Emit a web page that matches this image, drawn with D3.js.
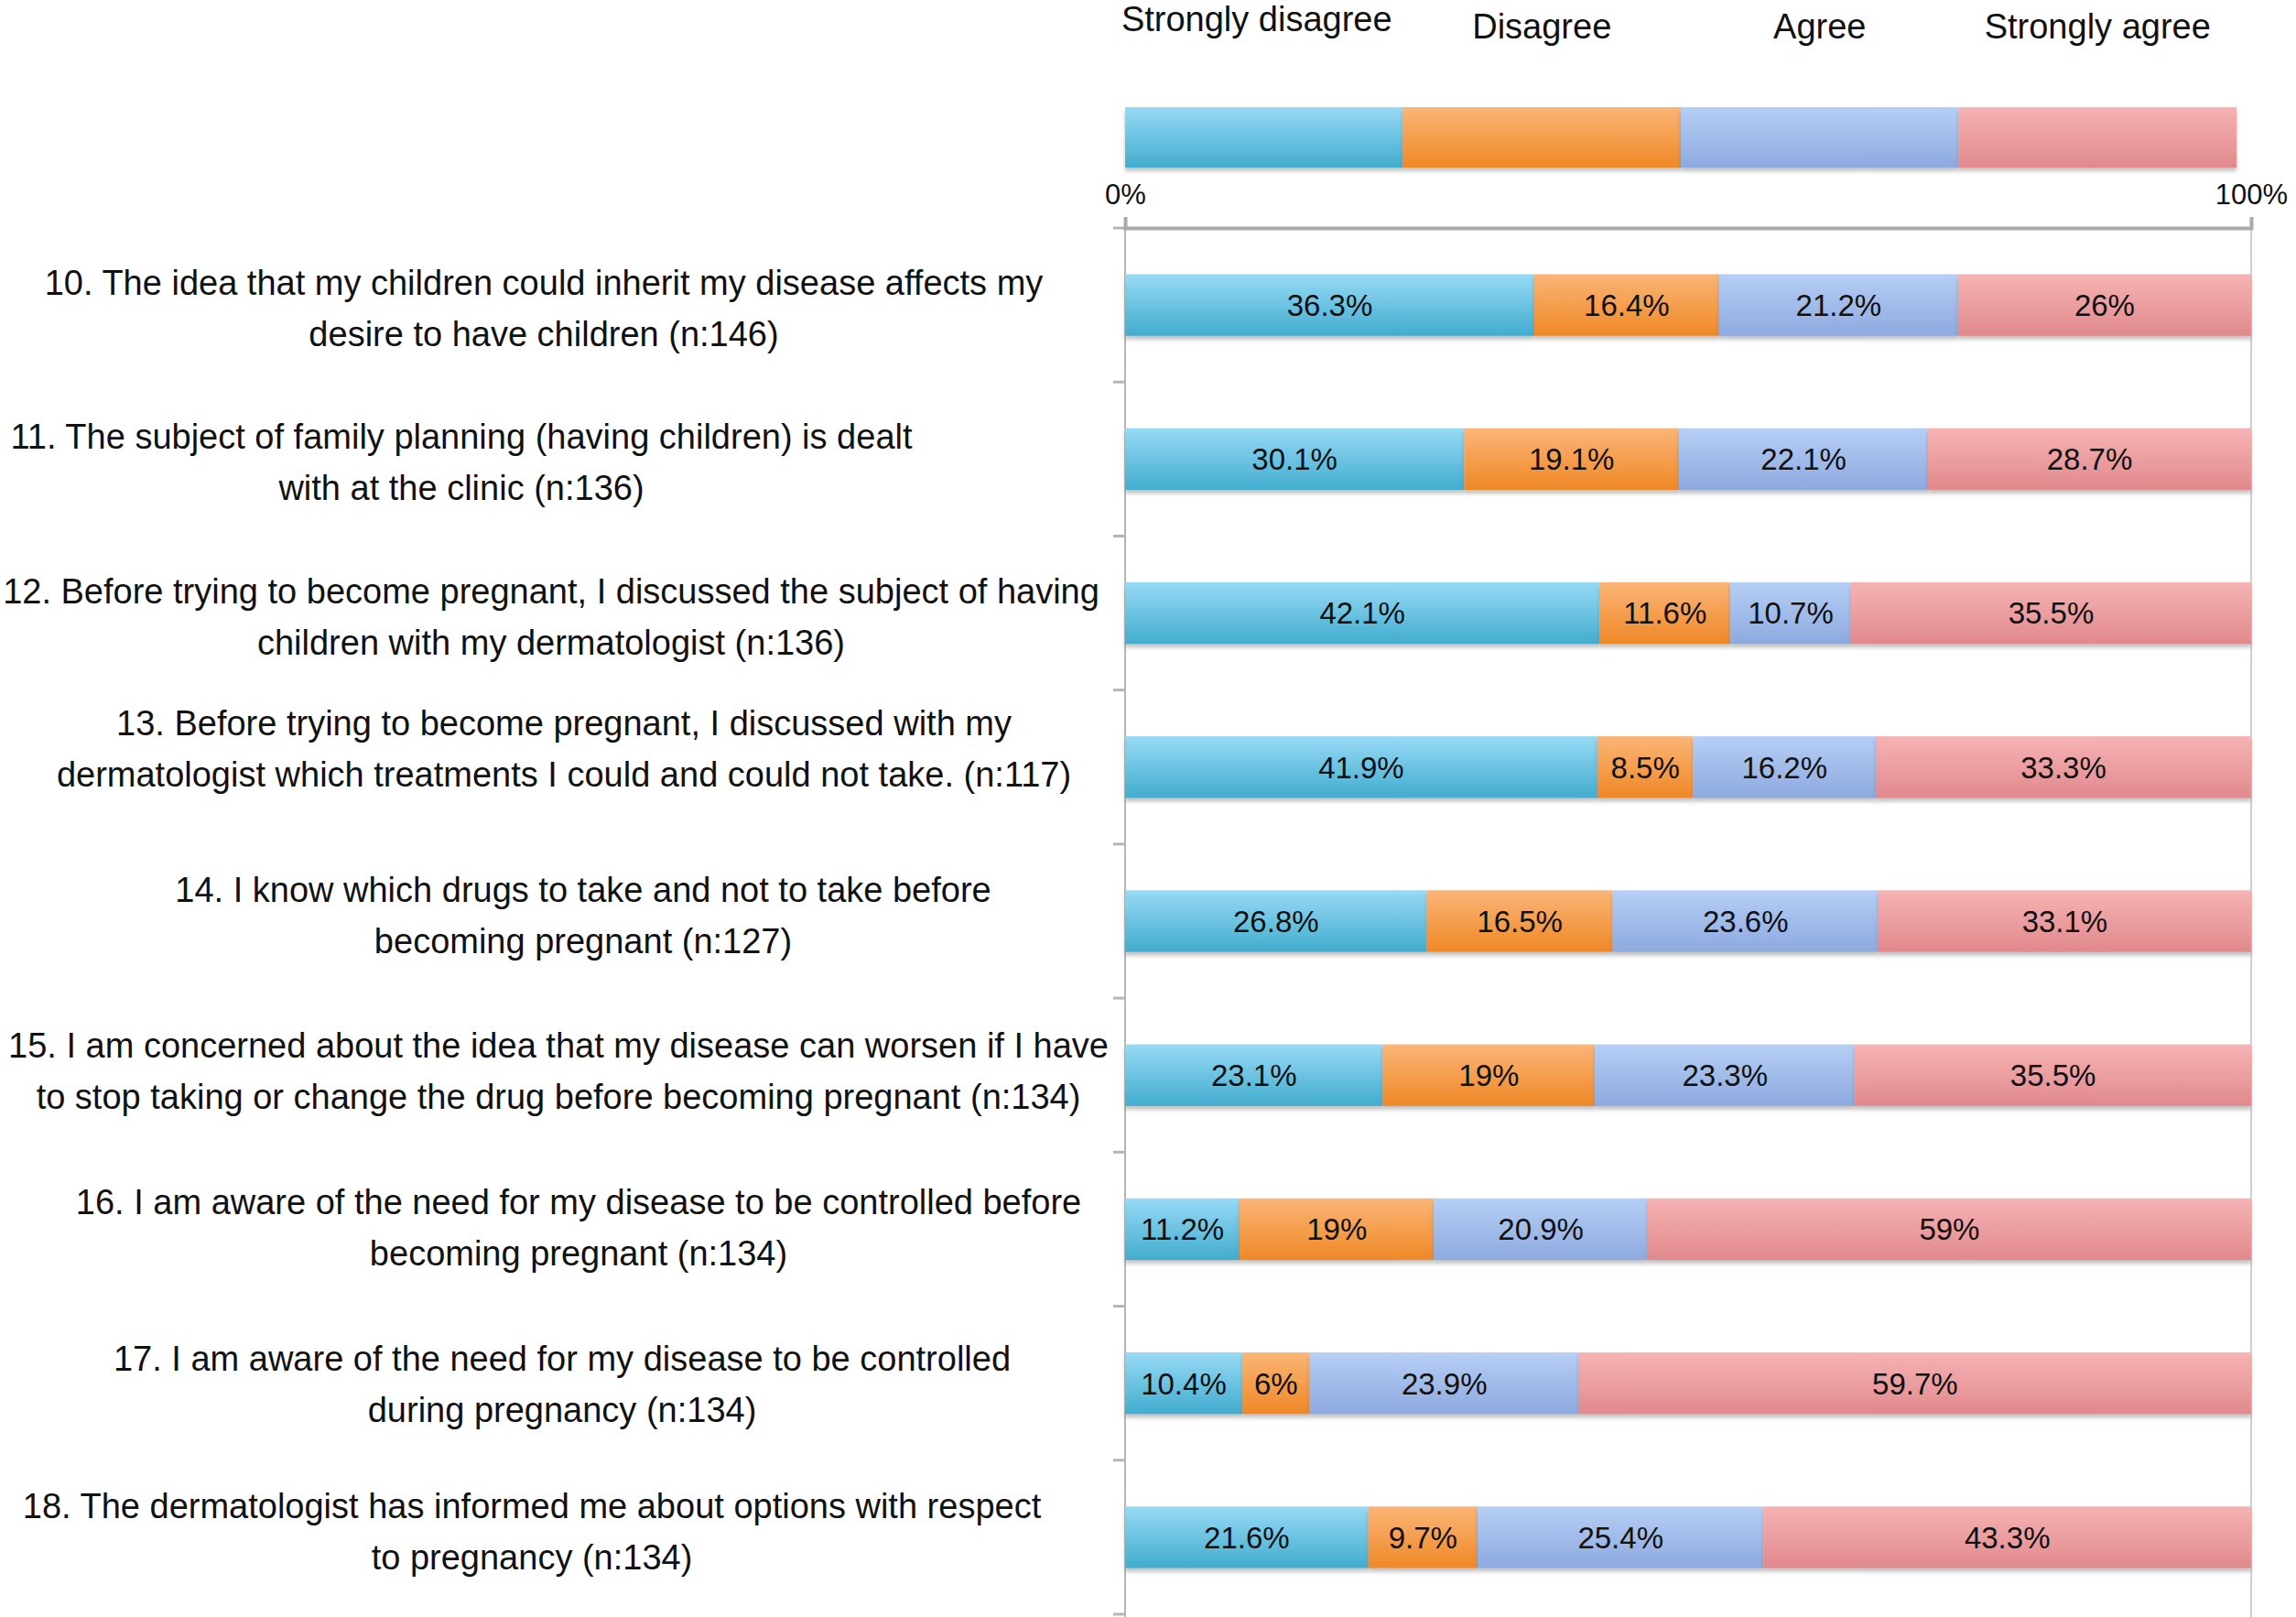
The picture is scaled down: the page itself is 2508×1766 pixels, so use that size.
<!DOCTYPE html>
<html>
<head>
    <title></title>
    <style>
        body { margin: 0; background: #fff; }
        text { font-family: "Liberation Sans", Arial, Helvetica, sans-serif; fill: #111; }
    </style>
</head>
<body>
<script src="https://d3js.org/d3.v7.min.js"></script>
<script type="text/javascript">

    // answer categories (legend order = stack order)
    var answers = ['Strongly disagree', 'Disagree', 'Agree', 'Strongly agree'];

    // question labels, split where the original breaks the line
    var questions = [
        ['10. The idea that my children could inherit my disease affects my', 'desire to have children (n:146)'],
        ['11. The subject of family planning (having children) is dealt', 'with at the clinic (n:136)'],
        ['12. Before trying to become pregnant, I discussed the subject of having', 'children with my dermatologist (n:136)'],
        ['13. Before trying to become pregnant, I discussed with my', 'dermatologist which treatments I could and could not take. (n:117)'],
        ['14. I know which drugs to take and not to take before', 'becoming pregnant (n:127)'],
        ['15. I am concerned about the idea that my disease can worsen if I have', 'to stop taking or change the drug before becoming pregnant (n:134)'],
        ['16. I am aware of the need for my disease to be controlled before', 'becoming pregnant (n:134)'],
        ['17. I am aware of the need for my disease to be controlled', 'during pregnancy (n:134)'],
        ['18. The dermatologist has informed me about options with respect', 'to pregnancy (n:134)']
    ];

    // percentages per question, one array per answer
    var stronglyDisagree = [36.3, 30.1, 42.1, 41.9, 26.8, 23.1, 11.2, 10.4, 21.6];
    var disagree         = [16.4, 19.1, 11.6,  8.5, 16.5, 19.0, 19.0,  6.0,  9.7];
    var agree            = [21.2, 22.1, 10.7, 16.2, 23.6, 23.3, 20.9, 23.9, 25.4];
    var stronglyAgree    = [26.0, 28.7, 35.5, 33.3, 33.1, 35.5, 59.0, 59.7, 43.3];

    var xTicks = [0, 100];

    // layout
    var width = 2508, height = 1766;
    var labelCenters = [594, 504, 602, 616, 637, 610, 632, 614, 581];
    var labelShift = [0, 0, 0, -24, -10, -8, -5, -3, -10];
    var colors = [
        ['#97daf6', '#42acce'],
        ['#fbb577', '#ef8826'],
        ['#b6cff6', '#8da9de'],
        ['#f6b3b3', '#e1898d']
    ];

    var series = [stronglyDisagree, disagree, agree, stronglyAgree];

    // rows for the stack, normalised so every bar fills 0-100%
    var rows = questions.map(function(q, i) {
        var row = { id: i };
        answers.forEach(function(a, k) { row[a] = series[k][i]; });
        return row;
    });
    var stacked = d3.stack().keys(answers).offset(d3.stackOffsetExpand)(rows);

    var x = d3.scaleLinear().domain([0, 1]).range([1229, 2459]);
    var y = d3.scaleBand().domain(d3.range(questions.length)).range([249, 1763]).padding(0);
    var legendX = d3.scaleBand().domain(answers).range([1229, 2443]);

    var svg = d3.select('body').append('svg')
        .attr('width', width)
        .attr('height', height);

    var defs = svg.append('defs');
    colors.forEach(function(c, k) {
        var g = defs.append('linearGradient')
            .attr('id', 'grad' + k)
            .attr('x1', 0).attr('y1', 0).attr('x2', 0).attr('y2', 1);
        g.append('stop').attr('offset', '0%').attr('stop-color', c[0]);
        g.append('stop').attr('offset', '100%').attr('stop-color', c[1]);
    });
    var shadow = defs.append('filter').attr('id', 'shadow')
        .attr('x', '-5%').attr('y', '-20%').attr('width', '110%').attr('height', '160%');
    shadow.append('feDropShadow')
        .attr('dx', 0).attr('dy', 4).attr('stdDeviation', 2)
        .attr('flood-color', '#777').attr('flood-opacity', 0.45);

    // legend
    var legend = svg.append('g');
    legend.selectAll('rect')
        .data(answers)
        .enter()
        .append('rect')
            .attr('x', function(d) { return legendX(d); })
            .attr('y', 117)
            .attr('width', legendX.bandwidth())
            .attr('height', 66)
            .attr('fill', function(d, i) { return 'url(#grad' + i + ')'; })
            .attr('filter', 'url(#shadow)');
    legend.selectAll('text')
        .data(answers)
        .enter()
        .append('text')
            .attr('x', function(d, i) { return legendX(d) + legendX.bandwidth() / 2 - (i === 0 ? 8 : 0); })
            .attr('y', function(d, i) { return i === 0 ? 34 : 42; })
            .attr('text-anchor', 'middle')
            .style('font-size', '38px')
            .text(function(d) { return d; });

    // right gridline at 100%
    svg.append('line')
        .attr('x1', x(1)).attr('x2', x(1))
        .attr('y1', 249).attr('y2', 1766)
        .attr('stroke', '#cfcfcf').attr('stroke-width', 2);

    // category axis: vertical line with ticks on the band boundaries
    var boundaries = y.domain().map(function(d) { return y(d); }).concat([y.range()[1]]);
    svg.append('line')
        .attr('x1', x(0)).attr('x2', x(0))
        .attr('y1', 249).attr('y2', 1766)
        .attr('stroke', '#b5b5b5').attr('stroke-width', 2);
    svg.selectAll('.ytick')
        .data(boundaries)
        .enter()
        .append('line')
            .attr('class', 'ytick')
            .attr('x1', x(0) - 13).attr('x2', x(0))
            .attr('y1', function(d) { return d; })
            .attr('y2', function(d) { return d; })
            .attr('stroke', '#b5b5b5').attr('stroke-width', 3);

    // percentage axis on top
    var xAxis = d3.axisTop(x)
        .tickValues(xTicks.map(function(t) { return t / 100; }))
        .tickFormat(function(d) { return Math.round(d * 100) + '%'; })
        .tickSize(12)
        .tickPadding(14);
    var gx = svg.append('g')
        .attr('transform', 'translate(0,249)')
        .call(xAxis);
    gx.select('.domain').attr('stroke', '#aaaaaa').attr('stroke-width', 4);
    gx.selectAll('.tick line').attr('stroke', '#aaaaaa').attr('stroke-width', 2);
    gx.selectAll('.tick text')
        .style('font-size', '31px')
        .style('font-family', '"Liberation Sans", Arial, sans-serif')
        .attr('fill', '#111');

    // bars
    var bandH = y.bandwidth();
    var layers = svg.selectAll('.layer')
        .data(stacked)
        .enter()
        .append('g')
            .attr('class', 'layer')
            .attr('fill', function(d, k) { return 'url(#grad' + k + ')'; });
    layers.selectAll('rect')
        .data(function(d) { return d; })
        .enter()
        .append('rect')
            .attr('x', function(d) { return x(d[0]); })
            .attr('y', function(d) { return y(d.data.id) + bandH * 0.3; })
            .attr('width', function(d) { return x(d[1]) - x(d[0]); })
            .attr('height', bandH * 0.4)
            .attr('filter', 'url(#shadow)');

    // value labels
    layers.selectAll('text')
        .data(function(d) { return d.map(function(p) { p.key = d.key; return p; }); })
        .enter()
        .append('text')
            .attr('x', function(d) { return (x(d[0]) + x(d[1])) / 2; })
            .attr('y', function(d) { return y(d.data.id) + bandH * 0.5; })
            .attr('dy', '0.36em')
            .attr('text-anchor', 'middle')
            .style('font-size', '33px')
            .style('fill', '#111')
            .text(function(d) { return d.data[d.key] + '%'; });

    // question labels
    var qLabels = svg.selectAll('.qlabel')
        .data(questions)
        .enter()
        .append('text')
            .attr('class', 'qlabel')
            .attr('text-anchor', 'middle')
            .style('font-size', '38px')
            .attr('transform', function(d, i) {
                return 'translate(' + labelCenters[i] + ',' + (y(i) + bandH / 2 + labelShift[i]) + ')';
            });
    qLabels.selectAll('tspan')
        .data(function(d) { return d; })
        .enter()
        .append('tspan')
            .attr('x', 0)
            .attr('y', function(d, j) { return j === 0 ? -11 : 45; })
            .text(function(d) { return d; });

</script>
</body>
</html>
